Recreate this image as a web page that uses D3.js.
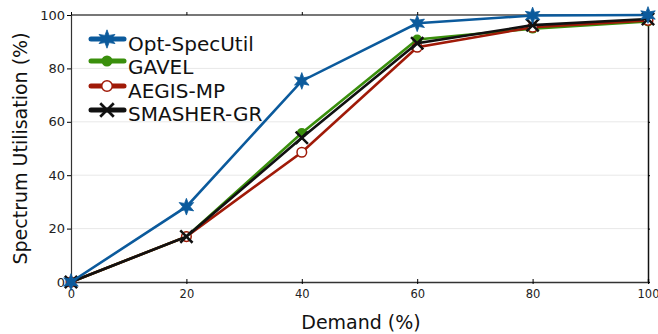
<!DOCTYPE html>
<html>
<head>
<meta charset="utf-8">
<script src="https://cdn.jsdelivr.net/npm/d3@7"></script>
<style>
  body { margin: 0; background: #fff; }
  text { font-family: "DejaVu Sans", sans-serif; }
</style>
</head>
<body>
<svg id="chart" width="658" height="334"></svg>
<script>
var demand = [0, 20, 40, 60, 80, 100];
var optSpecUtil = [0, 28.2, 75.3, 96.9, 99.8, 100];
var gavel = [0, 17, 55.8, 90.8, 94.9, 97.6];
var aegisMp = [0, 17, 48.6, 87.9, 95.4, 98.0];
var smasherGr = [0, 17, 54, 89.4, 96.2, 98.5];
var seriesNames = ["Opt-SpecUtil", "GAVEL", "AEGIS-MP", "SMASHER-GR"];
var xTicks = [0, 20, 40, 60, 80, 100];
var yTicks = [0, 20, 40, 60, 80, 100];

var series = [
  { name: seriesNames[0], values: optSpecUtil, color: "#0b5a9c", marker: "star" },
  { name: seriesNames[1], values: gavel, color: "#3a8f0c", marker: "dot" },
  { name: seriesNames[2], values: aegisMp, color: "#a01a08", marker: "ring" },
  { name: seriesNames[3], values: smasherGr, color: "#111111", marker: "cross" }
];

var svg = d3.select("#chart"),
    MARGINS = { top: 15, right: 10, bottom: 52, left: 71 },
    WIDTH = 658, HEIGHT = 334;

var x = d3.scaleLinear().domain([0, 100]).range([MARGINS.left, WIDTH - MARGINS.right]);
var y = d3.scaleLinear().domain([0, 100]).range([HEIGHT - MARGINS.bottom, MARGINS.top]);

// six pointed star
var star6 = {
  draw: function(context, size) {
    var r = Math.sqrt(size) / 2, ri = r * 0.45;
    for (var k = 0; k < 12; k++) {
      var a = -Math.PI / 2 + k * Math.PI / 6, rr = k % 2 ? ri : r;
      if (k === 0) context.moveTo(rr * Math.cos(a), rr * Math.sin(a));
      else context.lineTo(rr * Math.cos(a), rr * Math.sin(a));
    }
    context.closePath();
  }
};

// grid
svg.append("g").selectAll("line")
  .data(yTicks.filter(function(d) { return d > 0 && d < 100; }))
  .enter().append("line")
  .attr("x1", x(0)).attr("x2", x(100))
  .attr("y1", function(d) { return y(d); }).attr("y2", function(d) { return y(d); })
  .attr("stroke", "#e8e8e8").attr("stroke-width", 1);

// top border
svg.append("line").attr("x1", x(0)).attr("x2", x(100)).attr("y1", y(100)).attr("y2", y(100))
  .attr("stroke", "#777").attr("stroke-width", 2);
// right border
svg.append("g").attr("transform", "translate(" + x(100) + ",0)")
  .call(d3.axisRight(y).tickValues(yTicks).tickSize(2).tickFormat(""))
  .call(function(g) { g.select(".domain").attr("stroke", "#111").attr("stroke-width", 1.5); });

// top ticks
svg.append("g").attr("transform", "translate(0," + y(100) + ")")
  .call(d3.axisBottom(x).tickValues(xTicks).tickSize(-3).tickFormat(""))
  .call(function(g) { g.select(".domain").remove(); });

var xAxis = svg.append("g").attr("transform", "translate(0," + y(0) + ")")
  .call(d3.axisBottom(x).tickValues(xTicks).tickSize(-3).tickPadding(8));
xAxis.select(".domain").attr("stroke", "#333").attr("stroke-width", 1.5);
xAxis.selectAll(".tick line").clone().attr("y2", 2);
xAxis.selectAll("text").attr("font-size", 11.5).attr("fill", "#222")
  .attr("font-family", "DejaVu Sans, sans-serif");

var yAxis = svg.append("g").attr("transform", "translate(" + x(0) + ",0)")
  .call(d3.axisLeft(y).tickValues(yTicks).tickSize(4).tickPadding(2));
yAxis.select(".domain").attr("stroke", "#333").attr("stroke-width", 1.2);
yAxis.selectAll("text").attr("font-size", 13).attr("fill", "#222")
  .attr("font-family", "DejaVu Sans, sans-serif");

svg.append("text").attr("x", 361).attr("y", 329).attr("text-anchor", "middle")
  .attr("font-size", 19).attr("fill", "#111").text("Demand (%)");
svg.append("text").attr("transform", "translate(27," + (y(50)) + ") rotate(-90)")
  .attr("text-anchor", "middle").attr("font-size", 19).attr("fill", "#111")
  .text("Spectrum Utilisation (%)");

function drawMarker(g, s, cx, cy, scale) {
  scale = scale || 1;
  if (s.marker === "star") {
    g.append("path").attr("d", d3.symbol().type(star6).size(280 * scale * scale)())
      .attr("transform", "translate(" + cx + "," + cy + ")")
      .attr("fill", s.color).attr("stroke", s.color).attr("stroke-width", 0.8);
  } else if (s.marker === "dot") {
    g.append("circle").attr("cx", cx).attr("cy", cy).attr("r", 5 * scale).attr("fill", s.color);
  } else if (s.marker === "ring") {
    g.append("circle").attr("cx", cx).attr("cy", cy).attr("r", 4.8 * scale)
      .attr("fill", "#fff").attr("stroke", s.color).attr("stroke-width", 1.5);
  } else {
    g.append("path").attr("d", d3.symbol().type(d3.symbolTimes).size(100 * scale * scale)())
      .attr("transform", "translate(" + cx + "," + cy + ")")
      .attr("stroke", s.color).attr("stroke-width", 2.5 * scale);
  }
}

var line = d3.line().x(function(d) { return x(d[0]); }).y(function(d) { return y(d[1]); });

// draw lower series first, Opt-SpecUtil on top
[1, 2, 3, 0].forEach(function(i) {
  var s = series[i];
  var pts = demand.map(function(d, j) { return [d, s.values[j]]; });
  var g = svg.append("g");
  g.append("path").attr("d", line(pts)).attr("fill", "none")
    .attr("stroke", s.color).attr("stroke-width", 2.6);
  pts.forEach(function(p) { drawMarker(g, s, x(p[0]), y(p[1])); });
});

// legend
var legendY = [39, 61, 86, 110];
var textY = [51, 74, 98, 121];
series.forEach(function(s, i) {
  var g = svg.append("g");
  g.append("line").attr("x1", 91).attr("x2", 124).attr("y1", legendY[i]).attr("y2", legendY[i])
    .attr("stroke", s.color).attr("stroke-width", 5).attr("stroke-linecap", "round");
  drawMarker(g, s, 107, legendY[i], 1.1);
  g.append("text").attr("x", 128).attr("y", textY[i]).attr("font-size", 20)
    .attr("fill", "#111").text(s.name);
});
</script>
</body>
</html>
